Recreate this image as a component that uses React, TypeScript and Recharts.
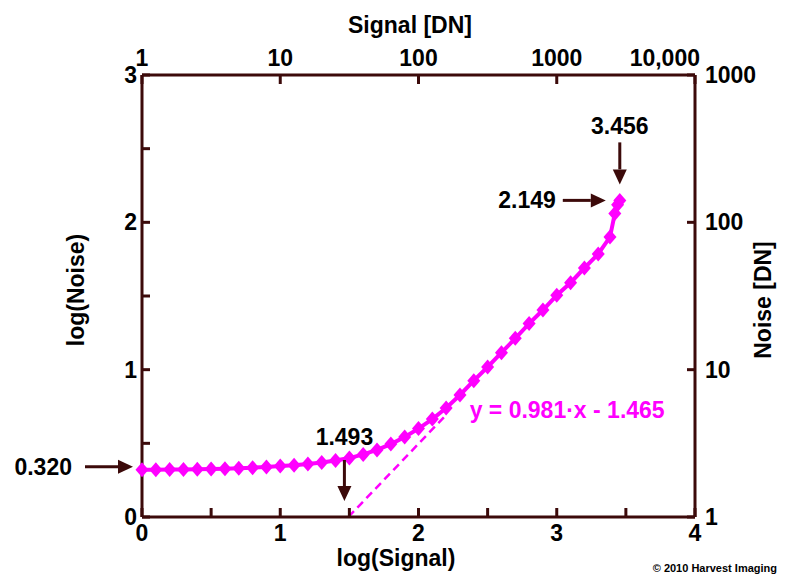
import React from 'react'
import { ComposedChart, Line, Scatter, Text, XAxis, YAxis } from 'recharts'

// photon transfer curve, log(noise) against log(signal)
const logSignal = [
  0, 0.1, 0.2, 0.3, 0.4, 0.5, 0.6, 0.7, 0.8, 0.9,
  1.0, 1.1, 1.2, 1.3, 1.4, 1.5, 1.6, 1.7, 1.8, 1.9,
  2.0, 2.1, 2.2, 2.3, 2.4, 2.5, 2.6, 2.7, 2.8, 2.9,
  3.0, 3.1, 3.2, 3.3, 3.385, 3.42, 3.44, 3.456,
]
const logNoise = [
  0.32, 0.321, 0.322, 0.323, 0.324, 0.326, 0.328, 0.331, 0.335, 0.34,
  0.346, 0.352, 0.36, 0.37, 0.383, 0.4, 0.425, 0.455, 0.495, 0.543,
  0.6, 0.665, 0.74, 0.828, 0.925, 1.018, 1.115, 1.213, 1.313, 1.405,
  1.505, 1.59, 1.69, 1.785, 1.9, 2.06, 2.12, 2.149,
]

// shot-noise fit y = 0.981x - 1.465, drawn from its zero crossing
const fitSignal = [1.493, 2.2]
const fitNoise = [0, 0.693]

// callouts: read-noise floor, fit intercept, full-well signal and noise
const calloutKind = ['floor', 'intercept', 'fullWellSignal', 'fullWellNoise', 'equation']
const calloutX = [0, 1.493, 3.456, 3.456, 2.37]
const calloutY = [0.32, 0, 2.149, 2.149, 0.726]
const calloutText = ['0.320', '1.493', '3.456', '2.149', 'y = 0.981\u00b7x - 1.465']

const logTicksX = [0, 0.5, 1, 1.5, 2, 2.5, 3, 3.5, 4]
const logTicksY = [0, 0.5, 1, 1.5, 2, 2.5, 3]
const signalDnLabels = ['1', '10', '100', '1000', '10,000']
const noiseDnLabels = ['1', '10', '100', '1000']

const curve = logSignal.map((x, i) => ({ x, y: logNoise[i] }))
const fitLine = fitSignal.map((x, i) => ({ x, y: fitNoise[i] }))
const callouts = calloutKind.map((kind, i) => ({ kind, x: calloutX[i], y: calloutY[i], text: calloutText[i] }))

const FONT = '"Liberation Sans", Arial, sans-serif'
const AXIS = '#3c0a0a'
const MAGENTA = '#ff00ff'
const FS = 23

const tickFont = { fill: '#000', fontSize: FS, fontWeight: 'bold', fontFamily: FONT }
const axisLine = { stroke: AXIS, strokeWidth: 3 }
const tickLine = { stroke: AXIS, strokeWidth: 3 }

const intOnly = (v: number) => (Number.isInteger(v) ? String(v) : '')

const Diamond = (props: any) => {
  const { cx, cy, index } = props
  if (cx == null || cy == null) return null
  return (
    <polygon
      key={`d-${index}`}
      points={`${cx},${cy - 7.5} ${cx + 6.5},${cy} ${cx},${cy + 7.5} ${cx - 6.5},${cy}`}
      fill={MAGENTA}
    />
  )
}

const TopTick = (props: any) => {
  const { x, y, payload } = props
  const last = payload.value === 4
  return (
    <text x={last ? x + 5 : x} y={y} textAnchor={last ? 'end' : 'middle'} {...tickFont}>
      {signalDnLabels[payload.value]}
    </text>
  )
}

// arrow from (x1,y1) to the head at (x2,y2)
const Arrow = ({ x1, y1, x2, y2 }: { x1: number; y1: number; x2: number; y2: number }) => {
  const a = Math.atan2(y2 - y1, x2 - x1)
  const len = 15
  const half = 7
  const bx = x2 - len * Math.cos(a)
  const by = y2 - len * Math.sin(a)
  const px = -Math.sin(a) * half
  const py = Math.cos(a) * half
  return (
    <g>
      <line x1={x1} y1={y1} x2={bx} y2={by} stroke={AXIS} strokeWidth={3} />
      <polygon points={`${x2},${y2} ${bx + px},${by + py} ${bx - px},${by - py}`} fill={AXIS} />
    </g>
  )
}

const Callout = (props: any) => {
  const { cx, cy, payload } = props
  const label = { fontSize: FS, fontWeight: 'bold', fontFamily: FONT, fill: '#000' }
  switch (payload.kind) {
    case 'floor':
      return (
        <g>
          <Arrow x1={cx - 57} y1={cy - 3} x2={cx - 9} y2={cy - 3} />
          <text x={cx - 70} y={cy + 5} textAnchor="end" {...label}>{payload.text}</text>
        </g>
      )
    case 'intercept':
      return (
        <g>
          <Arrow x1={cx - 4} y1={cy - 57} x2={cx - 4} y2={cy - 16} />
          <text x={cx - 4} y={cy - 72} textAnchor="middle" {...label}>{payload.text}</text>
        </g>
      )
    case 'fullWellSignal':
      return (
        <g>
          <Arrow x1={cx} y1={cy - 58} x2={cx} y2={cy - 16} />
          <text x={cx} y={cy - 66} textAnchor="middle" {...label}>{payload.text}</text>
        </g>
      )
    case 'fullWellNoise':
      return (
        <g>
          <Arrow x1={cx - 57} y1={cy} x2={cx - 14} y2={cy} />
          <text x={cx - 64} y={cy + 8} textAnchor="end" {...label}>{payload.text}</text>
        </g>
      )
    default:
      return (
        <text x={cx} y={cy + 8} {...label} fill={MAGENTA}>{payload.text}</text>
      )
  }
}

const PhotonTransferCurve = () => {
  return (
    <div style={{ position: 'absolute', left: 0, top: 0, background: '#fff' }}>
      <ComposedChart width={791} height={581} margin={{ top: 35, right: 16, bottom: 24, left: 82 }}>
        <XAxis
          xAxisId="log"
          dataKey="x"
          type="number"
          domain={[0, 4]}
          ticks={logTicksX}
          interval={0}
          height={40}
          axisLine={axisLine}
          tickLine={tickLine}
          tickSize={-9}
          tickMargin={17}
          tick={tickFont}
          tickFormatter={intOnly}
        />
        <XAxis
          xAxisId="dn"
          dataKey="x"
          orientation="top"
          type="number"
          domain={[0, 4]}
          ticks={[0, 1, 2, 3, 4]}
          interval={0}
          height={40}
          axisLine={axisLine}
          tickLine={tickLine}
          tickSize={-9}
          tickMargin={18}
          tick={<TopTick />}
        />
        <YAxis
          yAxisId="log"
          dataKey="y"
          type="number"
          domain={[0, 3]}
          ticks={logTicksY}
          interval={0}
          width={60}
          axisLine={axisLine}
          tickLine={tickLine}
          tickSize={-8}
          tickMargin={13}
          tick={tickFont}
          tickFormatter={intOnly}
        />
        <YAxis
          yAxisId="dn"
          dataKey="y"
          orientation="right"
          type="number"
          domain={[0, 3]}
          ticks={[0, 1, 2, 3]}
          interval={0}
          width={80}
          axisLine={axisLine}
          tickLine={tickLine}
          tickSize={-8}
          tickMargin={18}
          tick={{ ...tickFont, textAnchor: 'start' }}
          tickFormatter={(v: number) => noiseDnLabels[v]}
        />
        {/* same curve on the DN axes, unstroked, so those axes get ticks */}
        <Line
          xAxisId="dn"
          yAxisId="dn"
          data={curve}
          dataKey="y"
          stroke="none"
          dot={false}
          activeDot={false}
          isAnimationActive={false}
        />
        <Line
          xAxisId="log"
          yAxisId="log"
          data={fitLine}
          dataKey="y"
          type="linear"
          stroke={MAGENTA}
          strokeWidth={2.5}
          strokeDasharray="8 5"
          dot={false}
          activeDot={false}
          isAnimationActive={false}
        />
        <Line
          xAxisId="log"
          yAxisId="log"
          data={curve}
          dataKey="y"
          type="linear"
          stroke={MAGENTA}
          strokeWidth={4}
          dot={<Diamond />}
          activeDot={false}
          isAnimationActive={false}
        />
        <Scatter
          xAxisId="log"
          yAxisId="log"
          data={callouts}
          dataKey="y"
          shape={<Callout />}
          isAnimationActive={false}
        />
        <Text x={410} y={33} textAnchor="middle" fontSize={FS} fontWeight="bold" fontFamily={FONT} fill="#000">
          Signal [DN]
        </Text>
        <Text x={396} y={566} textAnchor="middle" fontSize={FS} fontWeight="bold" fontFamily={FONT} fill="#000">
          log(Signal)
        </Text>
        <Text x={76} y={290} angle={-90} textAnchor="middle" verticalAnchor="middle" fontSize={FS} fontWeight="bold" fontFamily={FONT} fill="#000">
          log(Noise)
        </Text>
        <Text x={763} y={300} angle={-90} textAnchor="middle" verticalAnchor="middle" fontSize={FS} fontWeight="bold" fontFamily={FONT} fill="#000">
          Noise [DN]
        </Text>
        <Text x={777} y={572} textAnchor="end" fontSize={11} fontWeight="bold" fontFamily={FONT} fill="#000">
          © 2010 Harvest Imaging
        </Text>
      </ComposedChart>
    </div>
  )
}

export default PhotonTransferCurve
